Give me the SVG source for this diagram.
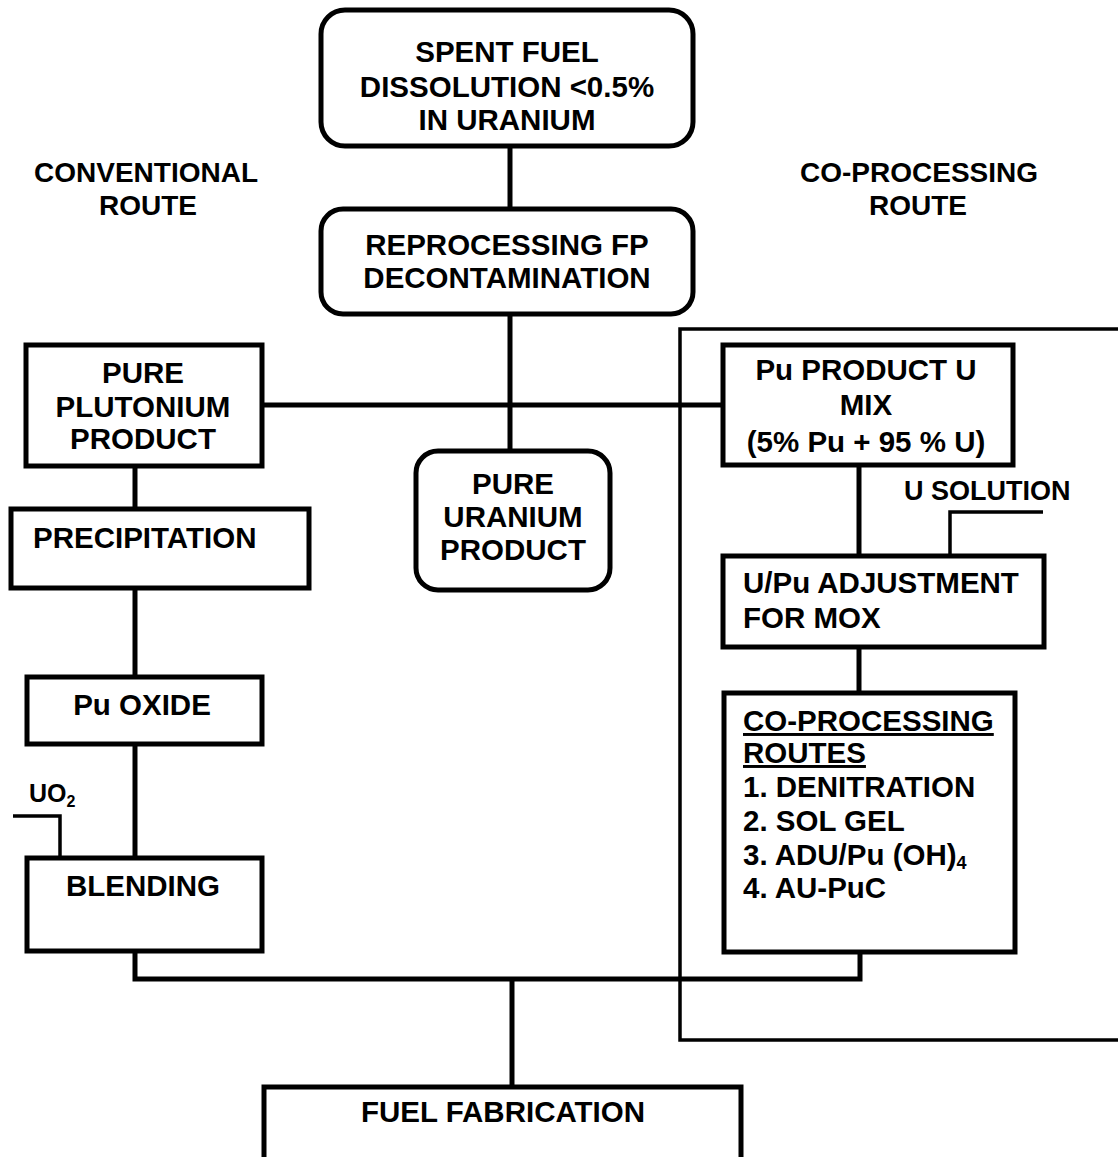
<svg xmlns="http://www.w3.org/2000/svg" width="1118" height="1157" viewBox="0 0 1118 1157">
<style>
.box{fill:#fff;stroke:#000;stroke-width:5}
.ln{fill:none;stroke:#000;stroke-width:5}
.thin{fill:none;stroke:#000;stroke-width:3.5}
text{font-family:"Liberation Sans",Arial,sans-serif;font-weight:bold;font-size:29.5px;fill:#000}
.c{text-anchor:middle}
.u{text-decoration:underline}
</style>
<rect width="1118" height="1157" fill="#fff"/>
<g id="connectors">
<line class="ln" x1="510" y1="146" x2="510" y2="209"/>
<line class="ln" x1="510" y1="314" x2="510" y2="451"/>
<line class="ln" x1="262" y1="405" x2="724" y2="405"/>
<line class="ln" x1="135" y1="466" x2="135" y2="509"/>
<line class="ln" x1="135" y1="588" x2="135" y2="677"/>
<line class="ln" x1="135" y1="744" x2="135" y2="858"/>
<path class="thin" d="M13 816 H60 V858"/>
<line class="ln" x1="859" y1="465" x2="859" y2="556"/>
<path class="thin" d="M1043 512 H950 V556"/>
<line class="ln" x1="859" y1="647" x2="859" y2="693"/>
<path class="ln" d="M135 950 V979 H860 V952"/>
<line class="ln" x1="512" y1="979" x2="512" y2="1087"/>
<path class="thin" d="M1118 329 H680 V1040 H1118"/>
</g>
<g id="spent-fuel">
<rect class="box" x="321" y="10" width="372" height="136" rx="24"/>
<text class="c" x="507" y="62">SPENT FUEL</text>
<text class="c" x="507" y="97">DISSOLUTION &lt;0.5%</text>
<text class="c" x="507" y="130">IN URANIUM</text>
</g>
<g id="conventional-label">
<text class="c" x="146" y="182" style="font-size:28px">CONVENTIONAL</text>
<text class="c" x="148" y="215" style="font-size:28px">ROUTE</text>
</g>
<g id="coprocessing-label">
<text class="c" x="919" y="182" style="font-size:28px">CO-PROCESSING</text>
<text class="c" x="918" y="215" style="font-size:28px">ROUTE</text>
</g>
<g id="reprocessing">
<rect class="box" x="321" y="209" width="372" height="105" rx="22"/>
<text class="c" x="507" y="255">REPROCESSING FP</text>
<text class="c" x="507" y="288">DECONTAMINATION</text>
</g>
<g id="pure-plutonium">
<rect class="box" x="26" y="345" width="236" height="121"/>
<text class="c" x="143" y="383">PURE</text>
<text class="c" x="143" y="417">PLUTONIUM</text>
<text class="c" x="143" y="449">PRODUCT</text>
</g>
<g id="pure-uranium">
<rect class="box" x="416" y="451" width="194" height="139" rx="22"/>
<text class="c" x="513" y="494">PURE</text>
<text class="c" x="513" y="527">URANIUM</text>
<text class="c" x="513" y="560">PRODUCT</text>
</g>
<g id="precipitation">
<rect class="box" x="11" y="509" width="298" height="79"/>
<text x="33" y="548">PRECIPITATION</text>
</g>
<g id="pu-oxide">
<rect class="box" x="27" y="677" width="235" height="67"/>
<text class="c" x="142" y="715">Pu OXIDE</text>
</g>
<g id="uo2-label">
<text x="29" y="802" style="font-size:25px">UO<tspan dy="5" style="font-size:16px">2</tspan></text>
</g>
<g id="blending">
<rect class="box" x="27" y="858" width="235" height="93"/>
<text class="c" x="143" y="896">BLENDING</text>
</g>
<g id="pu-product-mix">
<rect class="box" x="723" y="345" width="290" height="120"/>
<text class="c" x="866" y="380">Pu PRODUCT U</text>
<text class="c" x="866" y="415">MIX</text>
<text class="c" x="866" y="452">(5% Pu + 95 % U)</text>
</g>
<g id="u-solution-label">
<text x="904" y="500" style="font-size:27px">U SOLUTION</text>
</g>
<g id="adjustment">
<rect class="box" x="723" y="556" width="321" height="91"/>
<text x="743" y="593">U/Pu ADJUSTMENT</text>
<text x="743" y="628">FOR MOX</text>
</g>
<g id="coprocessing-routes">
<rect class="box" x="724" y="693" width="291" height="259"/>
<text class="u" x="743" y="731">CO-PROCESSING</text>
<text class="u" x="743" y="763">ROUTES</text>
<text x="743" y="797">1.  DENITRATION</text>
<text x="743" y="831">2.  SOL GEL</text>
<text x="743" y="865">3.  ADU/Pu (OH)<tspan dy="4" style="font-size:18px">4</tspan></text>
<text x="743" y="898">4.  AU-PuC</text>
</g>
<g id="fuel-fabrication">
<path class="ln" d="M264 1160 V1087 H741 V1160"/>
<text class="c" x="503" y="1122">FUEL FABRICATION</text>
</g>
</svg>
